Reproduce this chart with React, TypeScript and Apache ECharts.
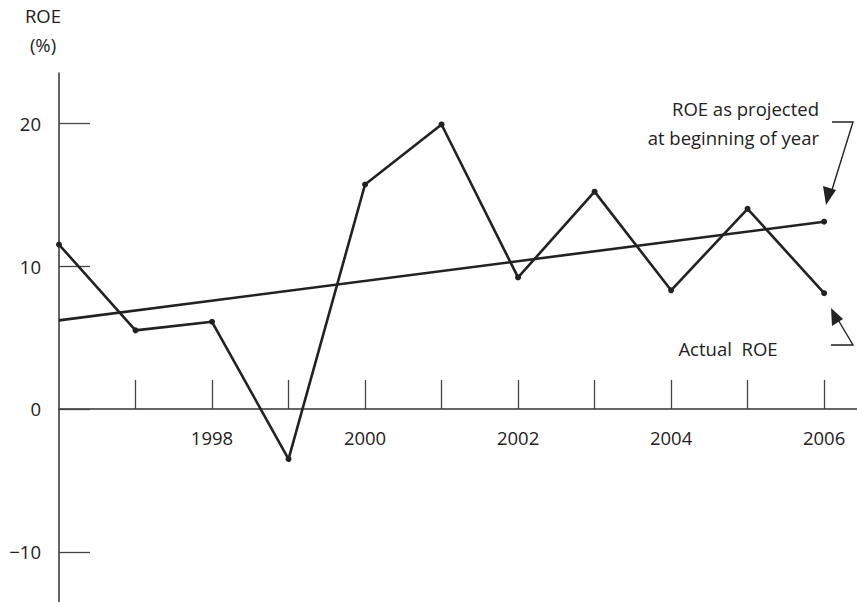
import React, { useEffect, useRef } from "react";
import * as echarts from "echarts";

const years = [1996, 1997, 1998, 1999, 2000, 2001, 2002, 2003, 2004, 2005, 2006];
const actualROE = [11.5, 5.5, 6.1, -3.5, 15.7, 19.9, 9.2, 15.2, 8.3, 14.0, 8.1];
const projectedYears = [1996, 2006];
const projectedROE = [6.2, 13.1];
const xTickYears = [1997, 1998, 1999, 2000, 2001, 2002, 2003, 2004, 2005, 2006];
const xLabelYears = [1998, 2000, 2002, 2004, 2006];
const yTickValues = [-10, 0, 10, 20];

const INK = "#222";
const FONT = "'Open Sans', 'DejaVu Sans', sans-serif";
const FS = 18.5;

export default function App() {
  const ref = useRef<HTMLDivElement>(null);
  useEffect(() => {
    document.body.style.margin = "0";
    if (!ref.current) return;
    const chart = echarts.init(ref.current, null, { renderer: "svg" });
    chart.setOption({
      animation: false,
      backgroundColor: "#fff",
      grid: { left: 59, right: 0, top: 73, bottom: 0 },
      xAxis: {
        type: "value",
        min: 1996,
        max: 2006.43,
        position: "bottom",
        offset: -193,
        axisLine: { show: true, onZero: false, lineStyle: { color: "#333", width: 1.5 } },
        axisTick: {
          show: true,
          inside: true,
          length: 29,
          customValues: xTickYears,
          lineStyle: { color: "#444", width: 1.3 },
        },
        axisLabel: {
          customValues: xLabelYears,
          formatter: (v: number) => String(v),
          color: INK,
          fontSize: FS,
          fontFamily: FONT,
          margin: 19,
        },
        splitLine: { show: false },
      },
      yAxis: {
        type: "value",
        min: -13.5,
        max: 23.5,
        axisLine: { show: true, onZero: false, lineStyle: { color: "#333", width: 1.5 } },
        axisTick: {
          show: true,
          inside: true,
          length: 31,
          customValues: yTickValues,
          lineStyle: { color: "#444", width: 1.3 },
        },
        axisLabel: {
          customValues: yTickValues,
          formatter: (v: number) => (v < 0 ? "\u2212" + Math.abs(v) : String(v)),
          color: INK,
          fontSize: FS,
          fontFamily: FONT,
          margin: 18,
        },
        splitLine: { show: false },
      },
      series: [
        {
          name: "Actual ROE",
          type: "line",
          data: years.map((y, i) => [y, actualROE[i]]),
          symbol: "circle",
          symbolSize: 6,
          showAllSymbol: true,
          lineStyle: { color: INK, width: 2.6 },
          itemStyle: { color: INK },
          clip: false,
        },
        {
          name: "ROE as projected",
          type: "line",
          data: projectedYears.map((y, i) => ({
            value: [y, projectedROE[i]],
            symbol: i === projectedYears.length - 1 ? "circle" : "none",
          })),
          symbol: "circle",
          symbolSize: 6,
          lineStyle: { color: INK, width: 2.6 },
          itemStyle: { color: INK },
          clip: false,
        },
      ],
      graphic: [
        {
          type: "text",
          x: 43,
          y: 15,
          style: { text: "ROE", fill: INK, font: `${FS}px ${FONT}`, align: "center", verticalAlign: "middle" },
        },
        {
          type: "text",
          x: 43,
          y: 44,
          style: { text: "(%)", fill: INK, font: `${FS}px ${FONT}`, align: "center", verticalAlign: "middle" },
        },
        {
          type: "text",
          x: 819,
          y: 108,
          style: { text: "ROE as projected", fill: INK, font: `${FS}px ${FONT}`, align: "right", verticalAlign: "middle" },
        },
        {
          type: "text",
          x: 819,
          y: 137,
          style: { text: "at beginning of year", fill: INK, font: `${FS}px ${FONT}`, align: "right", verticalAlign: "middle" },
        },
        {
          type: "text",
          x: 728,
          y: 348,
          style: { text: "Actual  ROE", fill: INK, font: `${FS}px ${FONT}`, align: "center", verticalAlign: "middle" },
        },
        {
          type: "polyline",
          shape: { points: [[832, 122], [853, 122], [831, 193]] },
          style: { stroke: INK, lineWidth: 1.4, fill: "none" },
        },
        {
          type: "polygon",
          shape: { points: [[826, 205], [823, 186], [836, 190]] },
          style: { fill: INK },
        },
        {
          type: "polyline",
          shape: { points: [[831, 345], [853, 345], [837, 318]] },
          style: { stroke: INK, lineWidth: 1.4, fill: "none" },
        },
        {
          type: "polygon",
          shape: { points: [[831, 308], [832, 326], [843, 319]] },
          style: { fill: INK },
        },
      ],
    });
    return () => chart.dispose();
  }, []);
  return <div ref={ref} style={{ width: 857, height: 602 }} />;
}
